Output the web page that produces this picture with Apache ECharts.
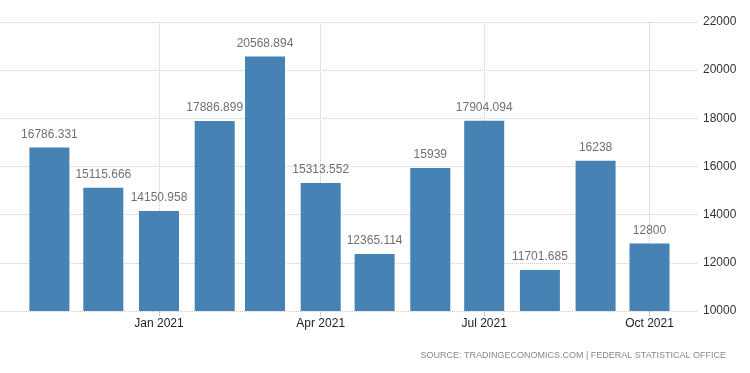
<!DOCTYPE html>
<html>
<head>
<meta charset="utf-8">
<script src="https://cdn.jsdelivr.net/npm/echarts@6/dist/echarts.min.js"></script>
<style>html,body{margin:0;padding:0;background:#fff}#c{width:750px;height:373px}</style>
</head>
<body>
<div id="c"></div>
<script>
const months = ['2020-11-01','2020-12-01','2021-01-01','2021-02-01','2021-03-01','2021-04-01','2021-05-01','2021-06-01','2021-07-01','2021-08-01','2021-09-01','2021-10-01'];
const values = [16786.331, 15115.666, 14150.958, 17886.899, 20568.894, 15313.552, 12365.114, 15939, 17904.094, 11701.685, 16238, 12800];
const tickDates = ['2021-01-01','2021-04-01','2021-07-01','2021-10-01'];
const tickLabels = ['Jan 2021','Apr 2021','Jul 2021','Oct 2021'];
const yMin = 10000, yMax = 22000, yStep = 2000;
const sourceText = 'SOURCE: TRADINGECONOMICS.COM | FEDERAL STATISTICAL OFFICE';

const DAY = 86400000;
const toDay = s => { const p = s.split('-').map(Number); return Math.round(Date.UTC(p[0], p[1]-1, p[2]) / DAY); };
const tickDays = tickDates.map(toDay);
const labelMap = {};
tickDays.forEach((t, i) => { labelMap[t] = tickLabels[i]; });

const chart = echarts.init(document.getElementById('c'), null, {renderer: 'canvas'});
chart.setOption({
  animation: false,
  backgroundColor: '#fff',
  grid: {left: 0, right: 52, top: 22, bottom: 62, containLabel: false},
  xAxis: {
    type: 'value',
    min: toDay('2020-10-04') + 0.5,
    max: toDay('2021-10-28'),
    axisLine: {show: false},
    axisTick: {show: true, customValues: tickDays, length: 5, lineStyle: {color: '#ccc'}},
    axisLabel: {
      customValues: tickDays,
      formatter: v => labelMap[Math.round(v)] || '',
      color: '#222', fontSize: 12, fontFamily: 'Liberation Sans', margin: 7
    },
    splitLine: {show: true, lineStyle: {type: 'dotted', color: '#ccc'}}
  },
  yAxis: {
    type: 'value', position: 'right',
    min: yMin, max: yMax, interval: yStep,
    axisLine: {show: false}, axisTick: {show: false},
    axisLabel: {color: '#333', fontSize: 12, fontFamily: 'Liberation Sans', margin: 5, formatter: v => String(v)},
    splitLine: {lineStyle: {type: 'dotted', color: '#ccc'}}
  },
  series: [{
    type: 'bar',
    barWidth: 40,
    data: months.map((m, i) => [toDay(m), values[i]]),
    itemStyle: {color: '#4682b4'},
    label: {
      show: true, position: 'top', distance: 7,
      color: '#707070', fontSize: 12, fontFamily: 'Liberation Sans',
      formatter: p => String(p.value[1])
    }
  }],
  graphic: [{
    type: 'text', right: 24, top: 351,
    style: {text: sourceText, fill: '#888', font: '9px "Liberation Sans"'}
  }]
});
</script>
</body>
</html>
